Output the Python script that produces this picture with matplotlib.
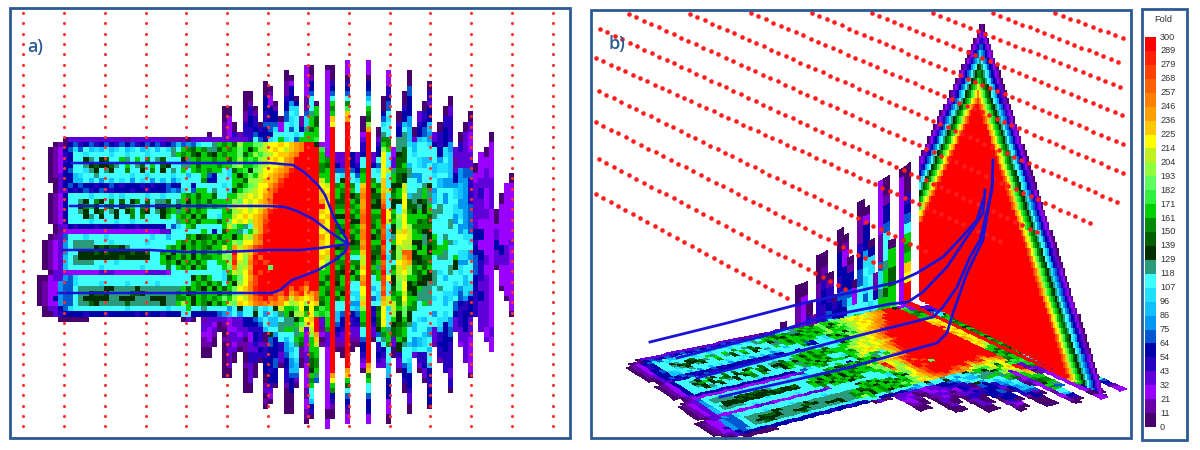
import matplotlib
matplotlib.use("Agg")
import matplotlib.pyplot as plt
import numpy as np
from matplotlib.colors import ListedColormap
from matplotlib.patches import Rectangle

# colour bar, top label is 300
fold_labels = [300, 289, 279, 268, 257, 246, 236, 225, 214, 204, 193, 182, 171, 161, 150,
               139, 129, 118, 107, 96, 86, 75, 64, 54, 43, 32, 21, 11, 0]
# one letter per fold class, lowest class first
fold_classes = "abpqcdestuvwxyzghijklmnoOPQr"
fold_colors = ["#48006e", "#6a00a8", "#9a00ff", "#6000d8", "#2800c0", "#0000a8", "#0058d0",
               "#0098f0", "#10c0ff", "#20e0ff", "#40ffff", "#2a9a7a", "#003000", "#006000",
               "#008c00", "#00d000", "#30f040", "#60ff60", "#90ff40", "#c0f020", "#ffff00",
               "#ffc800", "#ffa000", "#ff8000", "#ff6000", "#ff4000", "#ff2000", "#ff0000"]

# left block of the fold map, rows 15 to 50, columns 0 to 32
left_rows = [
    ".....aqqqqqqqqqqqbqqqqqqqbbbbaqqq",
    "...abadecdecdedcedecdedecdeteseuv",
    "..abpdeuevtutvtuvtuvtuvtvuwvgzygz",
    "..abpcdvvuvvvvuvvuvvvuvvvvwgzgyxg",
    "..abpcdvvxwvxyvvgwvgvzvwyvvvxwgzg",
    "..abpddvvwxyxxywvgvwyvgvyxvvwwgyg",
    "..abpdevvuwxvwxvvzvvxvzvxvwvgvgzg",
    "..abqddtuvvwvvvvvvuvvuvvvvuvvtvvg",
    "..aaqddttvtvsvtvuvsvuvsvtvsuvvvvz",
    "...aqdededdcddedcdddcdcddeddvvdvv",
    "...aqqdcdecdeccdddcddcdddeseuvegg",
    "..abpdvvvvuvvvuvuvvvvuvvuvvvgzgyg",
    "..abpdvvwxvzxvzvyvxzvyvwwyvwgxgzg",
    "..abpdvvxzgxvzyvxzgvzyvxxzgxgzgyz",
    "..abpdvvwxvxyvwxvxzvyxvwxzgwgygzg",
    "..abpdvvvxwvxvvxvvzvzvvvxgvgzgxgy",
    "..abpdvvvvuvvvvuvvuvvvvvvvvwgzgyg",
    "...aqqdcdddcddddcddcdddddveuvgzvv",
    "...abpppppppppppppppppppqqvvvvvvg",
    "..abqevvvuvvvuvvvvvvvvuvvtvvvzgxy",
    ".abpqsvwwwwvvvuvvvvvvuvvvvvgzgygz",
    ".abpqsvwwwwxyxyyxwvvvvvvvgzgxgzgz",
    ".abpqsvvxxxyxyxxxxyxxyvvzgxgzgxgy",
    ".abpqtvwxxxxxxxxyxxxxxvvgxzgygxgz",
    ".abpqtvwwwwvvvvuvvvvvvvvgzgxgzgyg",
    ".abpqtvvvvvvuvvvvvvvuvvvvzvgzgxgz",
    "..aqqpppppppqqqppppppqqqqpvvvvvvv",
    "aapqqseuvvvvvvvvvvvvvvvvvvvvvvxgy",
    "abppseeuvvvvuvvvvuvvvvvuvvvvvvgzg",
    "abppseevwwwwwxxwwwwxwwwwwwwwgygzx",
    "abppseevwwxyyxwwwwyyxwwwwwwzgxygz",
    "abpdseevwxxxxxwwxxxwwwxxxwwzzgxgz",
    "abppseevwwyxwwwwwywwwwwwxwwgjgxgz",
    ".aqqdeuvvvvvvvvvvuvvvvvvvuvvvgvvw",
    ".aaqcddddcdddcdddddcdcddcdddvvddd",
    "....aaaaaa..................aqa..",
]

# hot part of the fold map, rows 16 to 49, columns 33 to 56
heat_rows = [
    "vwgzgyjggiiklmlkmnorrxpp".replace("lmlk", "llml"),
    "wwygzgigxgjklmlkmnorrrhp",
    "yxgzggiygjhjklmmnorrrrgp",
    "gzggygjghgjklmlnorrrrrgz",
    "ggzggijgghjkllmoorrrrrzy",
    "zggvuyghxijllmnoQrrrrrzg",
    "edvvugxgigklmnoPrrrrrrgg",
    "ddvvvggyjjkmmnPrrrrrrrkg",
    "vvvuvgygijllnOQrrrrrrrlk",
    "vwvvuxgijklmoPrrrrrrrrml",
    "gyvvggjklklnorrrrrrrrrmm",
    "yggggjilklmnOrrrrrrrrrnl",
    "gzggiklljlkmnPrrrrrrrrrl",
    "vvvgzjklklmoQrrrrrrrrrml",
    "vvuggklmlmnOrrrrrrrrrrlm",
    "ggygilkljmnPrrrrrrrrrrnl",
    "vvvgkigwvmnQrrrrrrrrrrml",
    "vdvyggwvgknQrrrrrrrrrrlm",
    "zgyggxgkjnOrrrrrrrrrrrnl",
    "gygzgjillnorrrrrrrrrrrml",
    "yggkgnkmnPQrrrrrrrrrrrml",
    "ggzijrlkmPrrrrrrrrrrrrlm",
    "zggjiPljnrOrrrrrrrrrrrmk",
    "vvggjQkjoQrPrrrrrrrrrrlj",
    "vvvgiojknrrrirrrrrrrrrkg",
    "vvvugkjlorPrrrrrrrrrrrgg",
    "gvvuygilnPrrrrrrrrrrrrgy",
    "ygzvgxjloPrrrrrrrrrPrryg",
    "gxgygilmoQrrrrrrOrPnrrgz",
    "ggygzijmnPrrrPOrnOQmnOgy",
    "gzgigjlknOPrOPnOknmlmOzg",
    "xgygjimlmoOonon ljkljlmyg".replace(" ", ""),
    "vvvvsvxvvwvuvxkgghlylzhg",
    "ddestvsvvxvsvuwgxjkglhgh",
]

# first and last+1 row of each column, columns 32 to 92
col_top = [15, 14, 15, 15, 9, 9, 12, 14, 6, 6, 9, 12, 4, 5, 8, 11, 2, 3, 7, 11, 1, 1, 8, 16, 1,
           1, 18, 18, 0, 18, 18, 11, 0, 18, 13, 7, 2, 17, 10, 6, 2, 13, 10, 8, 4, 14, 12, 9, 7,
           17, 14, 12, 10, 20, 18, 17, 14, 29, 26, 24, 22]
col_bot = [58, 58, 56, 53, 62, 62, 59, 57, 65, 65, 62, 59, 68, 67, 64, 60, 69, 69, 64, 60, 71,
           70, 63, 56, 72, 70, 57, 58, 71, 57, 56, 61, 71, 55, 60, 60, 71, 58, 61, 65, 69, 58,
           61, 63, 68, 56, 59, 61, 65, 53, 56, 59, 62, 50, 53, 55, 57, 41, 45, 47, 50]

# fingers above the block, columns 32 to 56
upper_fingers = ["q", "aq", "q", "q", "aaabbbq", "aappppq", "aacq", "bq", "aaaabbcccq", "aabccddccc",
                 "abccdev", "acdev", "aaadddccedddd", "abppddde edu".replace(" ", ""), "abddeuvv",
                 "appvg", "aabbbcddeevvvu", "apdddsuvuuevv", "aduuvvvue", "bbdvg",
                 "pppppbbeuuwgg", "aabddevvvwggygg", "aggyyggh", "", "apppppppppppppp"]

# fingers below the block, columns 32 to 56
lower_fingers = ["bqqpbbaa", "qqpppbaa", "qpqbaa", "qaa", "qbaabaaaaaaa", "pppqbbqqbqaa",
                 "qqpqqpqaa", "qqqpqba", "ddqqabbaabaaaaa", "ddcppqqccqqqqaa", "edcddcqccaaa",
                 "tecccqdca", "vtaabccdddaabqaba", "tvxeeddddcddcqpa", "tvsddddeeddda",
                 "vwwvvccqqa", "wwgvtsseddcccbaaaaa", "wwgvvutusstedddaaaa", "xgwwgwvvutteqa",
                 "gikgzybbaa", "lkqppppqqpppppbbppbba", "mlkjgggzyyxgzgvvtdca", "rrrnmkggzzgwe",
                 "qqbpab", "ggzqqqppppppppppppaapp"]

# whole columns 57 to 92, top to bottom
right_cols = [
    "aacdevgzgml" + "r" * 47 + "nlgzdcbaa",
    "qdevvzgyzgxgyzgxgyzgyxzgyvvtedcqba",
    "qqeuxgzyzgxgzxgyzgzyxgzxgvvedcqqbaa",
    "ppacdevzhmn" + "r" * 47 + "nmgyvedcbpp",
    "ddevvzgxgzgyxzgyxzgvzgxgvvuvsudccqqbaa",
    "qcdeuvvzygzgxgzgyzgvzygyvvuustedcqqba",
    "aapqcdvvzgmnonoOOnonomkmlnolkmjgzvvedcqpa",
    "ppaddetvgzyjn" + "r" * 45 + "nmzgvvedddpp",
    "qdvvzgxyzxgzygxgzyxygzvtvevdcdcqqa",
    "aqcdveuvzgyxgzgyzgyzgwgvvuvyzyxevcdcq",
    "aadeuvwzgjlllllmmnoPrrrPOPrOPrOPrPOPnmllllgzwvdcqq",
    "ppcdevuvvzgvvkvvkvvlkvuvvuvvlvvkuvvwgzvvttdddppaa",
    "pqqwgxyzxgzgxwgxyvzgxyzgkjgxyqqaa",
    "acdwwxyzyxgxvjikljjlkjigzgxyzgxcqa",
    "aacdtvwwyygzxkkllkllmlkOnmlklklkigzgywvvedcaa",
    "aaedddsttuvvtwvvtyzgjkkjOnjgxzgzxwvvtvutddcqaa",
    "aqtuvvsvvwyxgzgxgxyzgzxgzvvtvsuq",
    "qcdtvvuvsvwxwgyzgxgxgyxgwvvuvvtvcqa",
    "acdeuvvtvvwgyxgzxwgzygxwwgvtvtuvcdqa",
    "acqddtsuvtvvxwwgyzxyxzgxwwwvvvsvtvtdcdda",
    "qdvvtuvstvwvvgzgvvwwvuvsvqqb",
    "accdsuvtvvwvvvvgwvuvwvvvutcdcb",
    "acddduvuvsvsvvvvwgwvvtvutvuddddccc",
    "aqcccstttsvvvvwvwvvwvvuvvsedcccqca",
    "qbqdsuvusvvuvgxvutvedqq",
    "acqqssttsuvsvvusuvsedccqqp",
    "aqqqqessssssuvusvtuscddqqqq",
    "aqppqqeccceeeuvsvvusddqqppppa",
    "apqqqqqdcdeeddccc",
    "ppqcqqpdpdccqdqqq",
    "apqqppqppppqpqqqqqpq",
    "appppqqqpppppppppppppqpp",
    "aapqqdqqqa",
    "apppppppddqppppa",
    "pppppppppqqqpppppa",
    "apppppppppqppppppppppa",
]

# band letters from the outer edge of the section inwards
section_bands = "abpqcdesuvwxyzghjlmoP"

# well paths, panel a
well_a = [
    ([71, 200, 270, 293, 304, 318, 325, 335, 346, 348], [163, 163, 163, 165, 172, 185, 195, 220, 238, 244]),
    ([70, 200, 270, 285, 297, 313, 330, 348], [206, 206, 206, 207, 211, 219, 232, 244]),
    ([63, 150, 185, 225, 270, 300, 320, 348], [250, 250, 252, 252, 250, 250, 248, 244]),
    ([58, 200, 272, 280, 292, 303, 318, 335, 345, 348], [293, 293, 293, 290, 280, 276, 270, 260, 252, 244]),
]
# well paths, panel b
well_b = [
    ([650, 727, 800, 858, 897, 917, 943, 962, 977, 983], [342, 323, 304, 291, 282, 273, 257, 237, 220, 200]),
    ([677, 767, 823, 890, 908, 923, 947, 967, 983, 985], [358, 335, 317, 304, 302, 292, 267, 237, 213, 190]),
    ([697, 853, 933, 943, 957, 970, 980, 992, 993], [378, 337, 317, 307, 287, 257, 240, 190, 160]),
    ([720, 847, 937, 947, 953, 967, 983, 993], [397, 368, 343, 333, 313, 273, 240, 180]),
]

# receiver lines
dots_a_x = [23, 64, 105, 146, 186, 227, 268, 308, 349, 390, 430, 471, 512, 553]
# x start, y start, x end, y end
dots_b = [(596, 194, 787, 298), (599, 159, 845, 289), (596, 122, 880, 266), (599, 91, 925, 251),
          (596, 58, 1000, 241), (600, 29, 1037, 232), (629, 14, 1090, 223), (690, 14, 1117, 202),
          (751, 13, 1123, 173), (812, 13, 1123, 144), (872, 13, 1122, 115), (933, 13, 1120, 87),
          (993, 13, 1118, 62), (1055, 13, 1123, 38)]

CELL = 5.13
X0, Y0 = 37.3, 60.0
BLUE = "#2c5a94"


def fit(s, n):
    # stretch a typed string to n cells
    if not s or n <= 0:
        return ["."] * max(n, 0)
    return [s[i * len(s) // n] for i in range(n)]


def level(ch):
    return fold_classes.index(ch) if ch in fold_classes else -1


# build the map
grid = np.full((72, 93), -1.0)
for r, s in enumerate(left_rows):
    for c, ch in enumerate(fit(s, 33)):
        grid[r + 15, c] = level(ch)
for i, (top, bot) in enumerate(zip(col_top, col_bot)):
    c = i + 32
    if c <= 56:
        for r, ch in zip(range(top, 16), fit(upper_fingers[i], 16 - top)):
            grid[r, c] = level(ch)
        for r, ch in zip(range(50, bot), fit(lower_fingers[i], bot - 50)):
            grid[r, c] = level(ch)
    else:
        for r, ch in zip(range(top, bot), fit(right_cols[c - 57], bot - top)):
            grid[r, c] = level(ch)
for r, s in enumerate(heat_rows):
    for c, ch in enumerate(fit(s, 24)):
        grid[r + 16, c + 33] = level(ch)
fold = np.ma.masked_less(grid, 0)

cmap = ListedColormap(fold_colors)

fig = plt.figure(figsize=(12, 4.5), dpi=100)
ax = fig.add_axes([0, 0, 1, 1])
ax.set_xlim(0, 1200)
ax.set_ylim(450, 0)
ax.axis("off")

# panel a
xa = X0 + CELL * np.arange(94)
ya = Y0 + CELL * np.arange(73)
ax.pcolormesh(xa, ya, fold, cmap=cmap, vmin=-0.5, vmax=27.5, zorder=2)
dot_y = np.arange(13, 436, 10.33)
for x in dots_a_x:
    ax.scatter(np.full(dot_y.shape, x), dot_y, s=5, color="#ff3030", linewidths=0, zorder=3)
for xs, ys in well_a:
    ax.plot(xs, ys, color="#1a14d8", lw=1.8, zorder=4)


# panel b floor, corners of the map in picture pixels
def floor_xy(c, r):
    u = (c - 5) / 52
    v = (r - 15) / 57
    pts = [(636, 360), (905, 303), (818, 480), (1107, 397)]
    x = (1 - u) * (1 - v) * pts[0][0] + u * (1 - v) * pts[1][0] + (1 - u) * v * pts[2][0] + u * v * pts[3][0]
    y = (1 - u) * (1 - v) * pts[0][1] + u * (1 - v) * pts[1][1] + (1 - u) * v * pts[2][1] + u * v * pts[3][1]
    return x, y


cc, rr = np.meshgrid(np.arange(0, 62), np.arange(15, 73))
fx, fy = floor_xy(cc, rr)
ax.pcolormesh(fx, fy, fold[15:72, 0:61], cmap=cmap, vmin=-0.5, vmax=27.5, zorder=2,
              edgecolors="face", linewidth=0.2)

# fingers standing behind the floor
cc, rr = np.meshgrid(np.arange(32, 59), np.arange(0, 16))
bx, by = floor_xy(cc, np.full(cc.shape, 15))
step = 6.7 + (cc - 36) * 0.145
ax.pcolormesh(bx, by - (15 - rr) * step, fold[0:15, 32:58], cmap=cmap, vmin=-0.5, vmax=27.5,
              zorder=2, edgecolors="face", linewidth=0.2)

# vertical section
sx = np.arange(915, 1117, 2.0)
sy = np.arange(14, 402, 2.0)
section = np.full((len(sy) - 1, len(sx) - 1), -1.0)
for j, y in enumerate(sy[:-1] + 1):
    yq = 18 + np.floor((y - 18) / 6.6) * 6.6
    if yq < 18:
        continue
    xl = 983 - (yq - 18) * 0.467
    xr = 983 + (yq - 18) * 0.327
    for i, x in enumerate(sx[:-1] + 1):
        if x < max(xl, 919) or x > xr or y > 300 + (x - 919) * 0.516:
            continue
        d = min(x - xl, xr - x)
        k = int(d / 1.5)
        section[j, i] = level(section_bands[k]) if k < len(section_bands) else 27
ax.pcolormesh(sx, sy, np.ma.masked_less(section, 0), cmap=cmap, vmin=-0.5, vmax=27.5, zorder=2)

for x1, y1, x2, y2 in dots_b:
    n = int(round((x2 - x1) / 7.4))
    ax.scatter(np.linspace(x1, x2, n + 1), np.linspace(y1, y2, n + 1), s=11, color="#ff1c1c",
               linewidths=0, zorder=3)
for xs, ys in well_b:
    ax.plot(xs, ys, color="#1a14d8", lw=2.0, zorder=4)

# colour bar
bar_y = np.linspace(37, 427, len(fold_labels))
ax.pcolormesh([1145, 1156], bar_y, np.arange(27, -1, -1).reshape(-1, 1), cmap=cmap, vmin=-0.5,
              vmax=27.5, zorder=2)
for y, lab in zip(bar_y, fold_labels):
    ax.text(1160, y, str(lab), fontsize=6.6, color="#333333", va="center", ha="left",
            family="Liberation Sans", zorder=5)
ax.text(1163, 19, "Fold", fontsize=6.6, color="#333333", va="center", ha="center",
        family="Liberation Sans", zorder=5)

# frames and panel letters
for x, y, w, h in [(10, 8, 560, 430), (591, 10, 540, 428), (1142, 9, 45, 431)]:
    ax.add_patch(Rectangle((x, y), w, h, fill=False, edgecolor=BLUE, lw=2.0, zorder=6))
ax.text(27, 47, "a)", fontsize=13, color=BLUE, family="Open Sans", weight="semibold", va="center", zorder=6)
ax.text(608, 44, "b)", fontsize=13, color=BLUE, family="Open Sans", weight="semibold", va="center", zorder=6)

fig.savefig("out.png", dpi=100)
